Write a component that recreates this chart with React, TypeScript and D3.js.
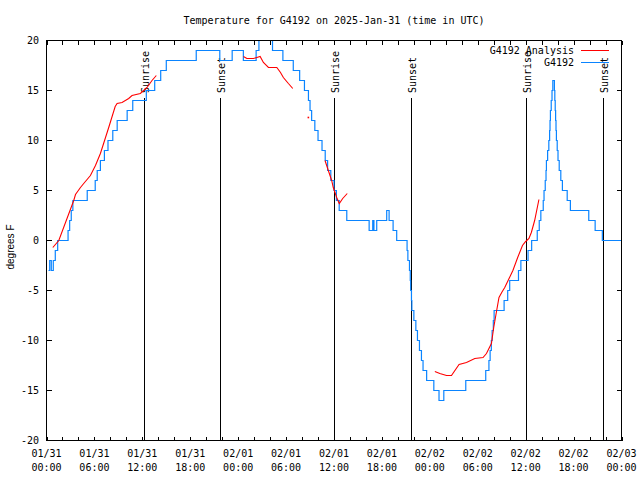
import React from "react";
import * as d3 from "d3";

const TITLE = "Temperature for G4192 on 2025-Jan-31 (time in UTC)";
const Y_LABEL = "degrees F";
const SERIES_NAMES = ["G4192 Analysis", "G4192"];

// hours since 2025-01-31 00:00 UTC
const xTickHours = [0, 6, 12, 18, 24, 30, 36, 42, 48, 54, 60, 66, 72];
const xTickLabels = [
  ["01/31", "00:00"], ["01/31", "06:00"], ["01/31", "12:00"], ["01/31", "18:00"],
  ["02/01", "00:00"], ["02/01", "06:00"], ["02/01", "12:00"], ["02/01", "18:00"],
  ["02/02", "00:00"], ["02/02", "06:00"], ["02/02", "12:00"], ["02/02", "18:00"],
  ["02/03", "00:00"],
];
const yTicks = [-20, -15, -10, -5, 0, 5, 10, 15, 20];

const sunEventHours = [12.15, 21.67, 36.03, 45.63, 60.03, 69.67];
const sunEventLabels = ["Sunrise", "Sunset", "Sunrise", "Sunset", "Sunrise", "Sunset"];

// observed station temps (value holds from this hour until the next)
const obsHours = [
  0.25, 0.4, 0.6, 0.85, 1.1, 1.4, 2.7, 2.9, 3.1, 3.3, 5.1, 6.1, 6.35, 6.75, 7.25, 7.7, 8.3, 8.85,
  10.1, 10.8, 12.5, 13.55, 14.3, 15.0, 18.75, 21.7, 23.25, 24.65, 26.25, 26.6, 26.8, 27.2, 27.8,
  28.1, 28.3, 29.6, 30.9, 31.7, 32.3, 32.8, 33.0, 33.2, 33.6, 34.0, 34.5, 34.9, 35.2, 35.6, 36.0,
  36.3, 36.65, 37.6, 40.4, 40.85, 41.0, 41.35, 42.6, 42.9, 43.4, 43.85, 45.15, 45.25, 45.45,
  45.55, 45.6, 45.7, 45.75, 46.0, 46.25, 46.45, 46.7, 46.95, 47.15, 47.6, 48.5, 49.15, 49.75,
  52.5, 55.0, 55.4, 55.55, 55.7, 55.8, 55.95, 56.05, 57.3, 57.75, 58.0, 59.1, 59.4, 60.3, 60.75,
  61.45, 61.7, 61.9, 62.2, 62.3, 62.45, 62.55, 62.6, 62.75, 62.9, 63.0, 63.05, 63.1, 63.2, 63.3,
  63.4, 63.6, 63.65, 63.7, 63.75, 63.8, 63.85, 63.95, 64.05, 64.2, 64.4, 64.6, 65.2, 65.6, 67.9,
  68.7, 69.6, 72.0,
];
const obsTemps = [
  -3, -2, -3, -2, -1, 0, 1, 2, 3, 4, 5, 6, 7, 8, 9, 10, 11, 12,
  13, 14, 15, 16, 17, 18, 19, 18, 19, 18, 19, 20, 21, 22, 21,
  20, 19, 18, 17, 16, 15, 14, 13, 12, 11, 10, 9, 8, 7, 6, 5,
  4, 3, 2, 1, 2, 1, 2, 3, 2, 1, 0, -1, -2, -3,
  -4, -5, -6, -7, -8, -9, -10, -11, -12, -13, -14, -15, -16, -15,
  -14, -13, -12, -11, -10, -9, -8, -7, -6, -5, -4, -3, -2, -1, 0,
  1, 2, 3, 4, 5, 6, 7, 8, 9, 10, 11, 12, 13, 14, 15,
  16, 15, 14, 13, 12, 11, 10, 9, 8, 7, 6, 5, 4, 3, 2,
  1, 0, 0,
];

// analysis temps; null marks a gap
const anaHours = [
  0.79, 1.54, 3.41, 3.63, 4.25, 4.66, 5.5, 6.13, 6.75, 7.79, 8.6, 8.84, 9.46, 10.29, 10.71, 11.75, 12.59, 13.21, 13.75,
  null,
  24.66, 25.09, 25.91, 26.34, 26.75, 27.16, 27.79, 28.84, 29.3, 29.66, 30.29, 30.84,
  null,
  32.79,
  null,
  34.875, 35.29, 35.71, 35.91, 36.34, 36.66, 37.09, 37.66,
  null,
  48.625, 49.25, 50.09, 50.71, 51.66, 52.59, 53.63, 54.66, 55.09, 55.71, 56.0, 56.37, 56.66, 57.0, 57.38,
  57.8, 58.4, 59.0, 59.6, 60.0, 60.41, 60.71, 61.125, 61.66,
];
const anaTemps = [
  -0.7, 0, 4, 4.6, 5.3, 5.7, 6.5, 7.5, 8.7, 11.3, 13.4, 13.7, 13.8, 14.2, 14.5, 14.7, 15.3, 16, 16.5,
  null,
  18.4, 18.2, 18.2, 18.3, 18.4, 17.8, 17.3, 17.3, 16.8, 16.3, 15.7, 15.2,
  null,
  12.3,
  null,
  8, 7, 6, 5.3, 4.3, 3.7, 4.2, 4.7,
  null,
  -13.1, -13.3, -13.5, -13.5, -12.4, -12.2, -11.8, -11.7, -11.3, -10.3, -8.7, -7, -5.7, -5.2, -4.7,
  -4, -3, -1.7, -0.5, -0.1, 0.2, 0.8, 2.0, 4.1,
];

const RED = "#ff0000";
const BLUE = "#0a84ff";
const FONT = "'DejaVu Sans Mono', 'Liberation Mono', monospace";

export default function App() {
  const W = 640, H = 480;
  const x = d3.scaleLinear().domain([0, 72]).range([46.5, 621.5]);
  const y = d3.scaleLinear().domain([-20, 20]).range([440.5, 40.5]);

  const obs = obsHours.map((h, i) => [h, obsTemps[i]] as [number, number]);
  const obsPath = d3.line<[number, number]>()
    .x(d => x(d[0]))
    .y(d => y(d[1]))
    .curve(d3.curveStepAfter)(obs) || "";

  // split analysis into segments
  const segs: [number, number][][] = [];
  let cur: [number, number][] = [];
  anaHours.forEach((h, i) => {
    const t = anaTemps[i];
    if (h === null || t === null) {
      if (cur.length) segs.push(cur);
      cur = [];
    } else cur.push([h, t]);
  });
  if (cur.length) segs.push(cur);
  const anaLine = d3.line<[number, number]>().x(d => x(d[0])).y(d => y(d[1]));

  const minorTicks = d3.range(0, 73, 2);
  const x0 = x(0), x1 = x(72), yTop = y(20), yBot = y(-20);

  return (
    <svg width={W} height={H} style={{ display: "block", position: "absolute", left: 0, top: 0 }}
      fontFamily={FONT} fontSize={10}>
      <rect x={0} y={0} width={W} height={H} fill="#fff" />
      <defs>
        <clipPath id="plotclip">
          <rect x={x0} y={yTop} width={x1 - x0} height={yBot - yTop} />
        </clipPath>
      </defs>
      <text x={(x0 + x1) / 2} y={24} textAnchor="middle" fill="#000">{TITLE}</text>

      {/* ticks */}
      <g stroke="#000" strokeWidth={1} shapeRendering="crispEdges">
        {minorTicks.map(h => (
          <g key={"xt" + h}>
            <line x1={Math.round(x(h)) + 0.5} x2={Math.round(x(h)) + 0.5} y1={yBot} y2={yBot - 4} />
            <line x1={Math.round(x(h)) + 0.5} x2={Math.round(x(h)) + 0.5} y1={yTop} y2={yTop + 4} />
          </g>
        ))}
        {yTicks.map(t => (
          <g key={"yt" + t}>
            <line x1={x0} x2={x0 + 5} y1={y(t)} y2={y(t)} />
            <line x1={x1} x2={x1 - 5} y1={y(t)} y2={y(t)} />
          </g>
        ))}
      </g>

      {yTicks.map(t => (
        <text key={"yl" + t} x={39} y={y(t)} dy="0.35em" textAnchor="end" fill="#000">{t}</text>
      ))}
      {xTickHours.map((h, i) => (
        <g key={"xl" + h}>
          <text x={x(h)} y={457} textAnchor="middle" fill="#000">{xTickLabels[i][0]}</text>
          <text x={x(h)} y={471} textAnchor="middle" fill="#000">{xTickLabels[i][1]}</text>
        </g>
      ))}
      <text transform={`translate(14,247) rotate(-90)`} textAnchor="middle" fill="#000"
        fontFamily="'Liberation Sans', Arial, sans-serif" fontSize={10}>{Y_LABEL}</text>

      {/* sunrise / sunset */}
      {sunEventHours.map((h, i) => (
        <g key={"sun" + i}>
          <line x1={Math.round(x(h)) + 0.5} x2={Math.round(x(h)) + 0.5} y1={98} y2={yBot}
            stroke="#000" strokeWidth={1} shapeRendering="crispEdges" />
          <text transform={`translate(${Math.round(x(h)) + 1},93) rotate(-90)`} dy="0.35em"
            textAnchor="start" fill="#000">{sunEventLabels[i]}</text>
        </g>
      ))}

      {/* data */}
      <g clipPath="url(#plotclip)">
        <path d={obsPath} fill="none" stroke={BLUE} strokeWidth={1.2} />
        {segs.map((s, i) =>
          s.length > 1 ? (
            <path key={"seg" + i} d={anaLine(s) || ""} fill="none" stroke={RED} strokeWidth={1.1} />
          ) : (
            <rect key={"seg" + i} x={x(s[0][0]) - 0.8} y={y(s[0][1]) - 0.8} width={1.6} height={1.6} fill={RED} />
          )
        )}
      </g>

      {/* border */}
      <rect x={x0} y={yTop} width={x1 - x0} height={yBot - yTop} fill="none" stroke="#000"
        strokeWidth={1} shapeRendering="crispEdges" />

      {/* legend */}
      <text x={574} y={50} dy="0.35em" textAnchor="end" fill="#000">{SERIES_NAMES[0]}</text>
      <line x1={581} x2={609} y1={50.5} y2={50.5} stroke={RED} strokeWidth={1} shapeRendering="crispEdges" />
      <text x={574} y={62} dy="0.35em" textAnchor="end" fill="#000">{SERIES_NAMES[1]}</text>
      <line x1={581} x2={609} y1={62.5} y2={62.5} stroke={BLUE} strokeWidth={1} shapeRendering="crispEdges" />
    </svg>
  );
}
